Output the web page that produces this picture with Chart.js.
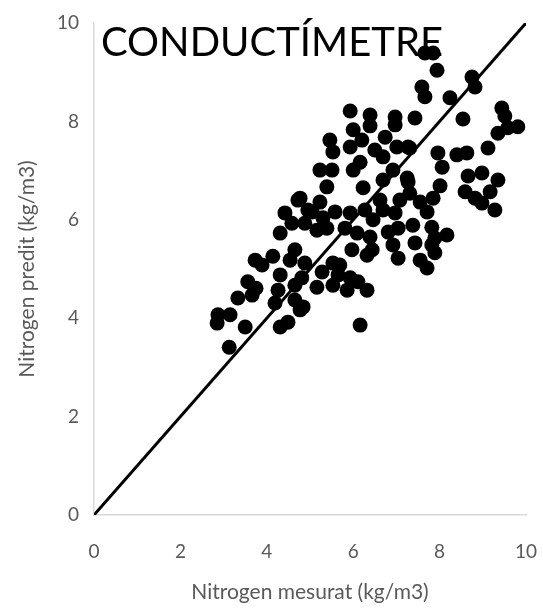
<!DOCTYPE html>
<html>
<head>
<meta charset="utf-8">
<script src="https://cdn.jsdelivr.net/npm/chart.js@4"></script>
<style>
  html, body { margin: 0; padding: 0; background: #fff; }
  #wrap { width: 543px; height: 609px; }
</style>
</head>
<body>
<div id="wrap"><canvas id="scatter-chart"></canvas></div>
<script>
// Measured vs predicted nitrogen (kg/m3)
const measured = [
    2.87, 2.85, 3.15, 3.13, 3.50, 3.33, 3.56, 3.75, 3.66, 3.73,
    3.89, 4.14, 4.31, 4.54, 4.65, 4.26, 4.19, 4.31, 4.49, 4.65,
    4.81, 4.88, 4.31, 4.42, 4.72, 4.58, 4.88, 4.95, 4.65, 4.84,
    4.77, 5.16, 5.28, 5.53, 5.53, 5.69, 5.65, 5.93, 6.11, 6.32,
    5.86, 5.97, 6.32, 6.44, 6.16, 5.05, 5.30, 5.58, 5.93, 6.27,
    6.46, 6.69, 6.97, 5.16, 5.39, 5.81, 6.09, 6.39, 6.81, 7.04,
    7.38, 6.92, 7.04, 7.43, 7.55, 7.71, 7.89, 7.82, 8.17, 7.82,
    7.89, 7.71, 7.55, 7.31, 7.85, 7.27, 8.01, 8.06, 5.23, 5.51,
    6.00, 6.16, 6.69, 6.92, 6.69, 7.25, 5.39, 6.23, 4.77, 5.23,
    6.62, 7.08, 6.00, 6.39, 6.97, 5.93, 6.20, 6.74, 6.50, 7.01,
    7.31, 5.93, 6.39, 6.97, 5.46, 5.53, 7.66, 7.85, 7.94, 7.59,
    7.66, 8.24, 8.75, 8.82, 7.43, 8.54, 9.44, 9.51, 9.35, 9.58,
    9.81, 9.12, 7.27, 7.96, 8.40, 8.63, 8.66, 8.98, 9.35, 8.59,
    8.82, 8.98, 9.17, 9.28
];
const predicted = [
    4.07, 3.90, 4.07, 3.41, 3.82, 4.41, 4.74, 4.61, 4.47, 5.18,
    5.08, 5.26, 4.88, 5.18, 5.39, 4.57, 4.31, 3.82, 3.92, 4.67,
    4.82, 5.12, 5.73, 6.14, 6.40, 5.93, 5.93, 6.20, 4.37, 4.23,
    4.17, 4.63, 4.94, 4.67, 5.12, 5.08, 4.88, 4.82, 4.74, 4.57,
    4.57, 5.39, 5.28, 5.39, 3.86, 6.16, 6.04, 6.16, 6.14, 6.20,
    6.00, 6.20, 6.14, 5.79, 5.83, 5.83, 5.73, 5.65, 5.75, 5.83,
    5.89, 5.49, 5.22, 5.53, 5.18, 5.02, 5.63, 5.85, 5.69, 5.49,
    5.33, 6.16, 6.36, 6.54, 6.44, 6.77, 6.69, 7.07, 7.01, 7.01,
    7.01, 7.17, 7.28, 7.01, 6.81, 6.85, 6.67, 6.65, 6.44, 6.36,
    6.40, 6.40, 7.83, 7.91, 7.93, 7.48, 7.62, 7.68, 7.42, 7.48,
    7.46, 8.21, 8.13, 8.09, 7.62, 7.38, 9.39, 9.39, 9.04, 8.70,
    8.50, 8.48, 8.90, 8.70, 8.07, 8.05, 8.27, 8.11, 7.76, 7.87,
    7.89, 7.46, 7.48, 7.36, 7.32, 7.36, 6.89, 6.95, 6.81, 6.57,
    6.44, 6.34, 6.57, 6.20
];

// 1:1 line
const lineX = [0, 10];
const lineY = [0, 10];

const axisTicks = [0, 2, 4, 6, 8, 10];
const chartTitle = 'CONDUCTÍMETRE';

const greyText = '#595959';
const axisFont = 'Lato, "Liberation Sans", sans-serif';

// Title drawn inside the plot area, like the original
const innerTitle = {
    id: 'innerTitle',
    afterDraw(chart) {
        const { ctx, chartArea } = chart;
        ctx.save();
        ctx.font = '40px ' + axisFont;
        ctx.fillStyle = '#000';
        ctx.textAlign = 'center';
        ctx.textBaseline = 'alphabetic';
        ctx.fillText(chartTitle, chartArea.left + 178, chartArea.top + 33);
        ctx.restore();
    }
};

const scatterCtx = document.getElementById('scatter-chart').getContext('2d');

const scatterChart = new Chart(scatterCtx, {
    type: 'scatter',
    data: {
        datasets: [
            {
                label: 'Mostres',
                data: measured.map((v, i) => ({ x: v, y: predicted[i] })),
                backgroundColor: '#000',
                borderWidth: 0,
                pointRadius: 7.5,
                pointHoverRadius: 7.5
            },
            {
                label: '1:1',
                type: 'line',
                data: lineX.map((v, i) => ({ x: v, y: lineY[i] })),
                borderColor: '#000',
                borderWidth: 3,
                pointRadius: 0,
                fill: false
            }
        ]
    },
    options: {
        responsive: true,
        maintainAspectRatio: false,
        animation: false,
        layout: {
            padding: { top: 23, right: 17, left: 0, bottom: 0 }
        },
        plugins: {
            legend: { display: false },
            tooltip: { enabled: false }
        },
        scales: {
            x: {
                type: 'linear',
                min: 0,
                max: 10,
                afterBuildTicks: (scale) => { scale.ticks = axisTicks.map(v => ({ value: v })); },
                afterFit: (scale) => {
                    scale.height = 94;
                    scale.paddingLeft = 0;
                    scale.paddingRight = 0;
                },
                grid: { display: false, drawTicks: false },
                border: { display: true, color: '#d9d9d9', width: 1.5 },
                ticks: {
                    color: greyText,
                    font: { family: axisFont, size: 19 },
                    padding: 25
                },
                title: {
                    display: true,
                    text: 'Nitrogen mesurat (kg/m3)',
                    color: greyText,
                    font: { family: axisFont, size: 21 },
                    padding: { top: 0, bottom: 4 }
                }
            },
            y: {
                type: 'linear',
                min: 0,
                max: 10,
                afterBuildTicks: (scale) => { scale.ticks = axisTicks.map(v => ({ value: v })); },
                afterFit: (scale) => {
                    scale.width = 94;
                    scale.paddingTop = 0;
                    scale.paddingBottom = 0;
                },
                grid: { display: false, drawTicks: false },
                border: { display: true, color: '#d9d9d9', width: 1.5 },
                ticks: {
                    color: greyText,
                    font: { family: axisFont, size: 19 },
                    padding: 15
                },
                title: {
                    display: true,
                    text: 'Nitrogen predit (kg/m3)',
                    color: greyText,
                    font: { family: axisFont, size: 21 },
                    padding: { top: 15, bottom: 0 }
                }
            }
        }
    },
    plugins: [innerTitle]
});
</script>
</body>
</html>
